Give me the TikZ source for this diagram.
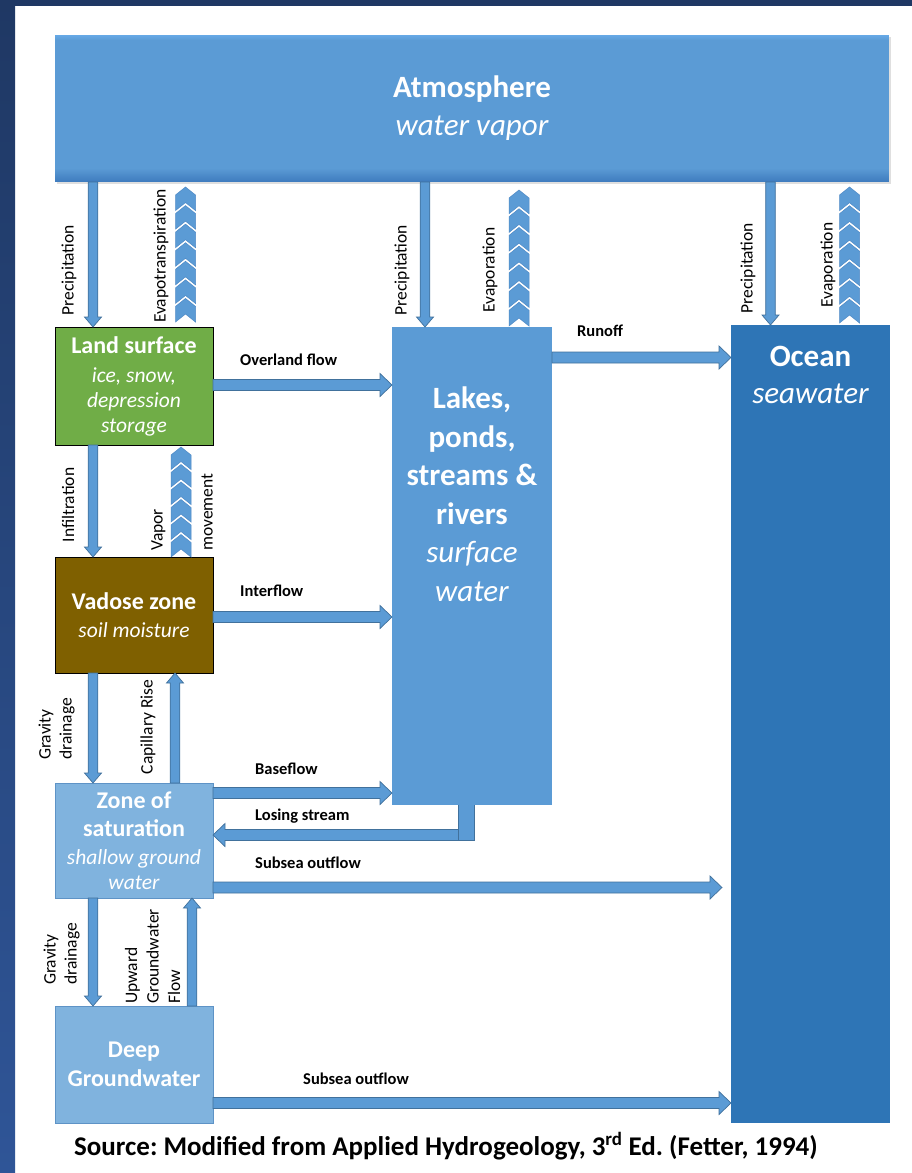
\documentclass[tikz,border=0pt]{standalone}
\usepackage{fontspec}
\setmainfont{Carlito}
\usetikzlibrary{calc,shadows}
\definecolor{atmblue}{HTML}{5B9BD5}
\definecolor{atmdark}{HTML}{3D7ABD}
\definecolor{atmlight}{HTML}{66A9E6}
\definecolor{arrowline}{HTML}{41719C}
\definecolor{landgreen}{HTML}{70AD47}
\definecolor{vadbrown}{HTML}{7F6000}
\definecolor{satblue}{HTML}{80B3DE}
\definecolor{satline}{HTML}{5E93C6}
\definecolor{oceanblue}{HTML}{2E75B6}
\definecolor{navy}{HTML}{1F3864}
\definecolor{navylight}{HTML}{2F5597}
\definecolor{chevline}{HTML}{4F8AC6}
\def\vsw{4.8pt}\def\vhw{8.5pt}\def\vhl{10pt}
\def\hsw{5.5pt}\def\hhw{11.5pt}\def\hhl{12pt}
\newcommand\varr[2]{%
\path[blockarrow] let \p1=(#1), \p2=(#2), \n1={sign(\y2-\y1)} in
 ({\x1-\vsw},{\y1}) -- ({\x1-\vsw},{\y2-(\n1)*\vhl}) -- ({\x1-\vhw},{\y2-(\n1)*\vhl}) -- ({\x1},{\y2})
 -- ({\x1+\vhw},{\y2-(\n1)*\vhl}) -- ({\x1+\vsw},{\y2-(\n1)*\vhl}) -- ({\x1+\vsw},{\y1}) -- cycle;}
\newcommand\harr[2]{%
\path[blockarrow] let \p1=(#1), \p2=(#2), \n1={sign(\x2-\x1)} in
 ({\x1},{\y1-\hsw}) -- ({\x2-(\n1)*\hhl},{\y1-\hsw}) -- ({\x2-(\n1)*\hhl},{\y1-\hhw}) -- ({\x2},{\y1})
 -- ({\x2-(\n1)*\hhl},{\y1+\hhw}) -- ({\x2-(\n1)*\hhl},{\y1+\hsw}) -- ({\x1},{\y1+\hsw}) -- cycle;}
\newcommand\chevs[4]{%
 \pgfmathsetmacro\chp{(#2-#3+3-8)/#4}%
 \foreach \i in {1,...,#4}{%
   \pgfmathsetmacro\yb{#2-(\i-1)*\chp}%
   \pgfmathsetmacro\yt{\yb-\chp+3}%
   \path[chev] (#1-10,\yb) -- (#1,\yb-8) -- (#1+10,\yb) -- (#1+10,\yt) -- (#1,\yt-8) -- (#1-10,\yt) -- cycle;
 }}
\tikzset{
 blockarrow/.style={fill=atmblue, draw=arrowline, line width=0.7pt, line join=miter},
 chev/.style={fill=atmblue, draw=chevline, line width=0.5pt},
 box/.style={inner sep=0pt, outer sep=0pt, anchor=north west, text=white, align=center},
 boxtext/.style={text=white, align=center, inner sep=0pt},
 vlab/.style={rotate=90, inner sep=0pt, font=\fontsize{17.5}{21}\selectfont},
 hlab/.style={anchor=west, inner sep=0pt, font=\bfseries\fontsize{16.5}{20}\selectfont},
 smallbox/.style={box, minimum width=158pt, font=\fontsize{21.5}{25}\selectfont}
}
\newcommand\bl[1]{{\bfseries\fontsize{24}{25}\selectfont #1}}
\newcommand\il[1]{{\itshape #1}}
\begin{document}
\frenchspacing
\begin{tikzpicture}[x=1pt,y=-1pt]
\useasboundingbox (0,0) rectangle (912,1173);
\fill[white] (0,0) rectangle (912,1173);
\shade[top color=navy, bottom color=navylight] (0,0) rectangle (15,1173);
\fill[navy] (0,0) rectangle (912,6);

% boxes
\node[box, fill=atmblue, minimum width=834pt, minimum height=147pt,
  drop shadow={shadow xshift=1.5pt,shadow yshift=-2pt,opacity=0.25},
  path picture={
    \foreach \k in {0,...,13}{
      \pgfmathsetmacro\mix{7*\k}
      \fill[atmdark!\mix!atmblue] ([yshift={14pt-\k*1pt}]path picture bounding box.south west) rectangle ([yshift={13pt-\k*1pt}]path picture bounding box.south east);
    }
    \foreach \k in {0,...,4}{
      \pgfmathsetmacro\mix{100-20*\k}
      \fill[atmlight!\mix!atmblue] ([yshift={-\k*1pt}]path picture bounding box.north west) rectangle ([yshift={-\k*1pt-1pt}]path picture bounding box.north east);
    }
  },
  font=\fontsize{31}{38}\selectfont] (atm) at (55,35)
  {{\bfseries Atmosphere}\\{\itshape water vapor}};
\node[smallbox, fill=landgreen, draw=black, line width=0.8pt, minimum height=118pt] (land) at (55,327)
  {\bl{Land surface}\\[4pt]\il{ice, snow,}\\\il{depression}\\\il{storage}};
\node[smallbox, fill=vadbrown, draw=black, line width=0.8pt, minimum height=116pt] (vadose) at (55,557)
  {\bl{Vadose zone}\\[3pt]\il{soil moisture}};
\node[smallbox, fill=satblue, draw=satline, line width=0.6pt, minimum height=115pt] (zone) at (55,783)
  {\bl{Zone of}\\[3pt]\bl{saturation}\\[3pt]\il{shallow ground}\\\il{water}};
\node[smallbox, fill=satblue, draw=satline, line width=0.6pt, minimum height=117pt] (deep) at (55,1006)
  {\bl{Deep}\\[4pt]\bl{Groundwater}};
\node[box, fill=atmblue, minimum width=160pt, minimum height=478pt] (lakes) at (392,327) {};
\node[box, fill=oceanblue, minimum width=159pt, minimum height=798pt] (ocean) at (731,325) {};
\node[boxtext, font=\fontsize{31}{38.5}\selectfont] (lakestext) at (472,494)
  {{\bfseries Lakes,}\\{\bfseries ponds,}\\{\bfseries streams \&}\\{\bfseries rivers}\\{\itshape surface}\\{\itshape water}};
\node[boxtext, font=\fontsize{31}{37}\selectfont] (oceantext) at (810.5,374.5)
  {{\bfseries Ocean}\\{\itshape seawater}};

% vertical block arrows
\varr{[xshift=38pt]atm.south west}{[xshift=38pt]land.north west}
\varr{[xshift=370pt]atm.south west}{[xshift=33pt]lakes.north west}
\varr{[xshift=715.5pt]atm.south west}{[xshift=39.5pt]ocean.north west}
\varr{[xshift=38pt]land.south west}{[xshift=38pt]vadose.north west}
\varr{[xshift=38pt]vadose.south west}{[xshift=38pt]zone.north west}
\varr{[xshift=38pt]zone.south west}{[xshift=38pt]deep.north west}
\varr{[xshift=120pt]zone.north west}{[xshift=120pt]vadose.south west}
\varr{[xshift=137pt]deep.north west}{[xshift=137pt]zone.south west}

% horizontal block arrows
\harr{[yshift=-58pt]land.north east}{[yshift=-58pt]lakes.north west}
\harr{[yshift=-60pt]vadose.north east}{[yshift=-290pt]lakes.north west}
\harr{[yshift=-10pt]zone.north east}{[yshift=-466pt]lakes.north west}
\coordinate (sub1end) at ([xshift=-9pt,yshift=-562.5pt]ocean.north west);
\harr{[yshift=-104.5pt]zone.north east}{sub1end}
\harr{[yshift=-97pt]deep.north east}{[yshift=-778pt]ocean.north west}
\harr{[yshift=-30.5pt]lakes.north east}{[yshift=-32.5pt]ocean.north west}

% losing stream
\node[inner sep=0pt, outer sep=0pt, anchor=north west, fill=atmblue, minimum width=16pt, minimum height=35pt] (tab) at (458,805) {};
\harr{[yshift=5pt]tab.south}{[yshift=-52pt]zone.north east}
\fill[atmblue] (tab.north west) rectangle (tab.south east);
\draw[arrowline, line width=0.7pt] (tab.north west) -- (tab.south west) -- (tab.south east) -- (tab.north east);

% chevron stacks
\chevs{185.5}{322}{187}{7}
\chevs{519}{326}{190}{7}
\chevs{849.5}{323}{187}{7}
\chevs{181}{557}{447}{6}

% vertical labels
\node[vlab] (lp1) at (69,270) {Precipitation};
\node[vlab] (lev1) at (161,256) {Evapotranspiration};
\node[vlab] (lp2) at (402,270) {Precipitation};
\node[vlab] (lev2) at (490,270) {Evaporation};
\node[vlab] (lp3) at (748,268) {Precipitation};
\node[vlab] (lev3) at (828,265) {Evaporation};
\node[vlab] (linf) at (68,505) {Infiltration};
\node[vlab, anchor=west, align=left, font=\fontsize{17.5}{50}\selectfont] (lvap) at (182,551) {Vapor\\movement};
\node[vlab] (lcap) at (148,727) {Capillary Rise};
\node[vlab, anchor=west, align=left] (lgd1) at (56.5,760) {Gravity\\drainage};
\node[vlab, anchor=west, align=left] (lgd2) at (61.5,985) {Gravity\\drainage};
\node[vlab, anchor=west, align=left, font=\fontsize{17.5}{21.5}\selectfont] (lup) at (152.5,1004) {Upward\\Groundwater\\Flow};

% horizontal labels
\node[hlab] (lover) at (240,360) {Overland flow};
\node[hlab] (linter) at (240,591) {Interflow};
\node[hlab] (lbase) at (255,769) {Baseflow};
\node[hlab] (llose) at (255,816) {Losing stream};
\node[hlab] (lsub1) at (255,863) {Subsea outflow};
\node[hlab] (lsub2) at (303,1079) {Subsea outflow};
\node[hlab] (lrun) at (577,331) {Runoff};

% caption
\node[anchor=base, inner sep=0pt, font=\bfseries\fontsize{27}{30}\selectfont] (caption) at (446,1155)
  {Source: Modified from Applied Hydrogeology, 3\textsuperscript{rd} Ed. (Fetter, 1994)};
\end{tikzpicture}
\end{document}
